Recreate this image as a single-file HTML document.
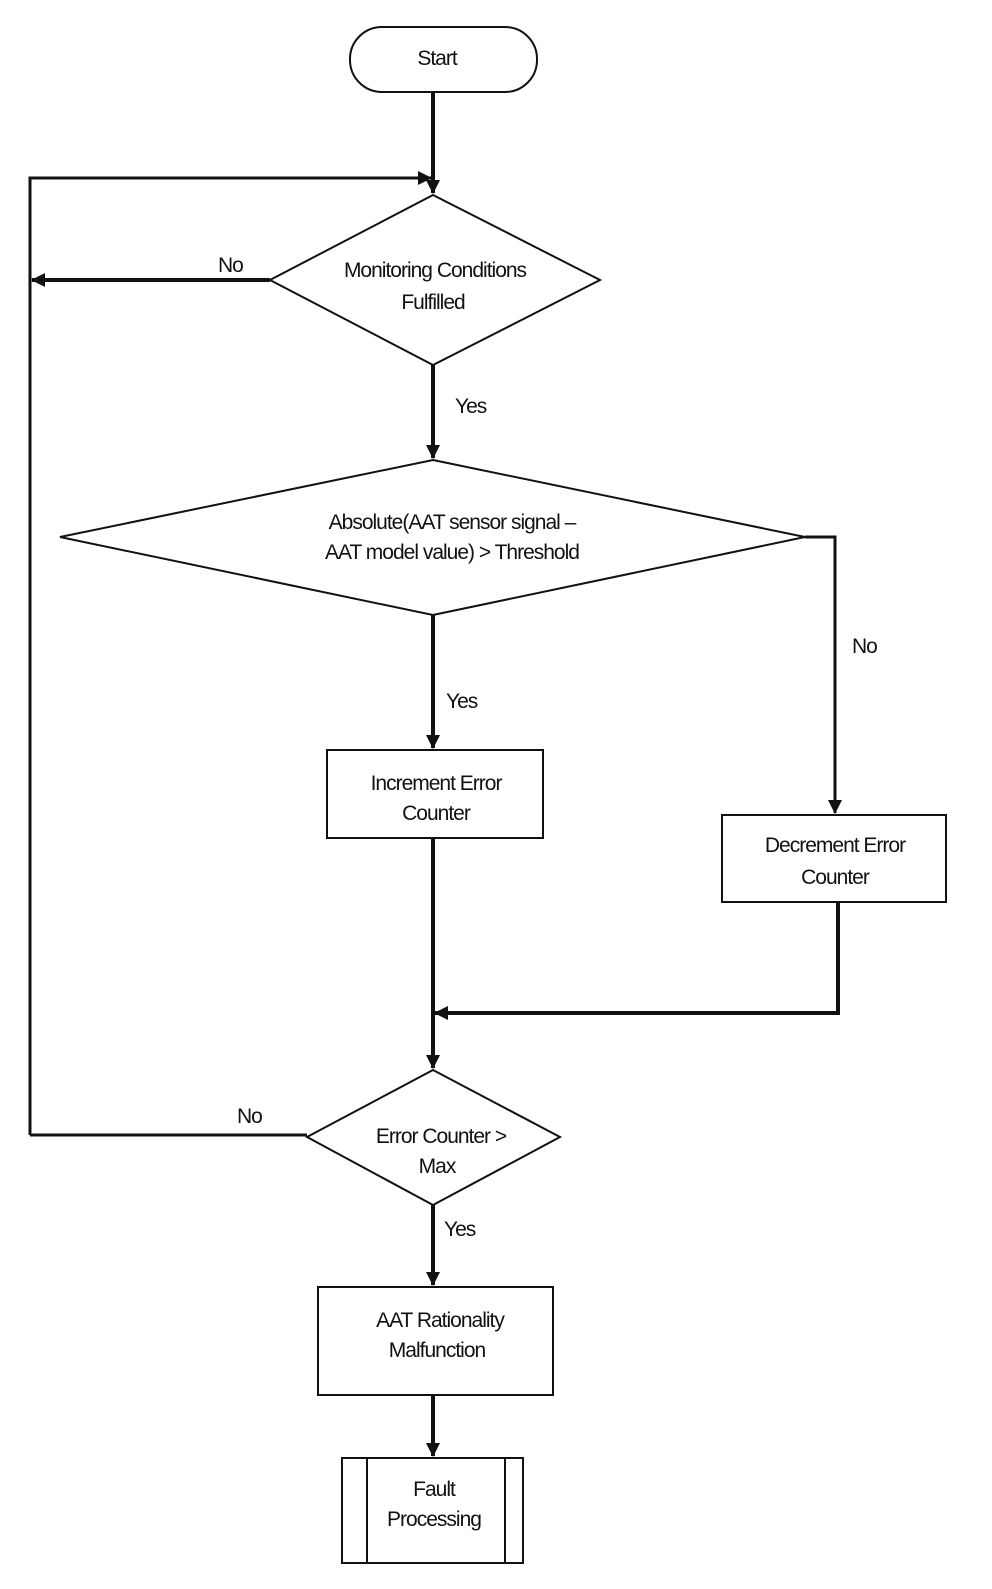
<!DOCTYPE html>
<html><head><meta charset="utf-8"><style>
body{margin:0;background:#fff}
svg text{font-family:"Liberation Sans",sans-serif;font-size:21px;fill:#111;letter-spacing:-1px}
</style></head><body>
<svg width="992" height="1584" viewBox="0 0 992 1584" xmlns="http://www.w3.org/2000/svg">
<defs><marker id="a" markerWidth="10" markerHeight="10" refX="9" refY="5" orient="auto" markerUnits="userSpaceOnUse"><path d="M0,0 L10,5 L0,10 z" fill="#111"/></marker>
<marker id="b" markerWidth="14" markerHeight="14" refX="13" refY="7" orient="auto" markerUnits="userSpaceOnUse"><path d="M0,0 L14,7 L0,14 z" fill="#111"/></marker></defs>
<g fill="none" stroke="#111" stroke-width="2">
<rect x="350" y="27" width="187" height="65" rx="32"/>
<polygon points="433,195 600,280 433,365 270,280"/>
<polygon points="433,460 805,537 433,615 60,537"/>
<rect x="327" y="750" width="216" height="88"/>
<rect x="722" y="815" width="224" height="87"/>
<polygon points="433,1070 560,1137 433,1205 307,1137"/>
<rect x="318" y="1287" width="235" height="108"/>
<rect x="342" y="1458" width="181" height="105"/>
<line x1="367" y1="1458" x2="367" y2="1563"/>
<line x1="505" y1="1458" x2="505" y2="1563"/>
</g>
<g fill="none" stroke="#111" stroke-width="4">
<line x1="433" y1="92" x2="433" y2="193" marker-end="url(#b)"/>
<polyline points="30,1135 30,178 431,178" stroke-width="3" marker-end="url(#b)"/>
<line x1="270" y1="280" x2="32" y2="280" marker-end="url(#b)"/>
<line x1="433" y1="365" x2="433" y2="458" marker-end="url(#b)"/>
<polyline points="805,537 835,537 835,813" stroke-width="3" marker-end="url(#b)"/>
<line x1="433" y1="615" x2="433" y2="748" marker-end="url(#b)"/>
<line x1="433" y1="838" x2="433" y2="1068" marker-end="url(#b)"/>
<polyline points="838,902 838,1013 435,1013" marker-end="url(#b)"/>
<line x1="307" y1="1135" x2="30" y2="1135" stroke-width="3"/>
<line x1="433" y1="1205" x2="433" y2="1285" marker-end="url(#b)"/>
<line x1="433" y1="1395" x2="433" y2="1456" marker-end="url(#b)"/>
</g>
<g text-anchor="middle">
<text x="437" y="65">Start</text>
<text x="435" y="277">Monitoring Conditions</text>
<text x="433" y="309">Fulfilled</text>
<text x="452" y="529">Absolute(AAT sensor signal –</text>
<text x="452" y="559">AAT model value) &gt; Threshold</text>
<text x="436" y="790">Increment Error</text>
<text x="436" y="820">Counter</text>
<text x="835" y="852">Decrement Error</text>
<text x="835" y="884">Counter</text>
<text x="441" y="1143">Error Counter &gt;</text>
<text x="437" y="1173">Max</text>
<text x="440" y="1327">AAT Rationality</text>
<text x="437" y="1357">Malfunction</text>
<text x="434" y="1496">Fault</text>
<text x="434" y="1526">Processing</text>
</g>
<g>
<text x="218" y="272">No</text>
<text x="455" y="413">Yes</text>
<text x="852" y="653">No</text>
<text x="446" y="708">Yes</text>
<text x="237" y="1123">No</text>
<text x="444" y="1236">Yes</text>
</g>
</svg>
</body></html>
